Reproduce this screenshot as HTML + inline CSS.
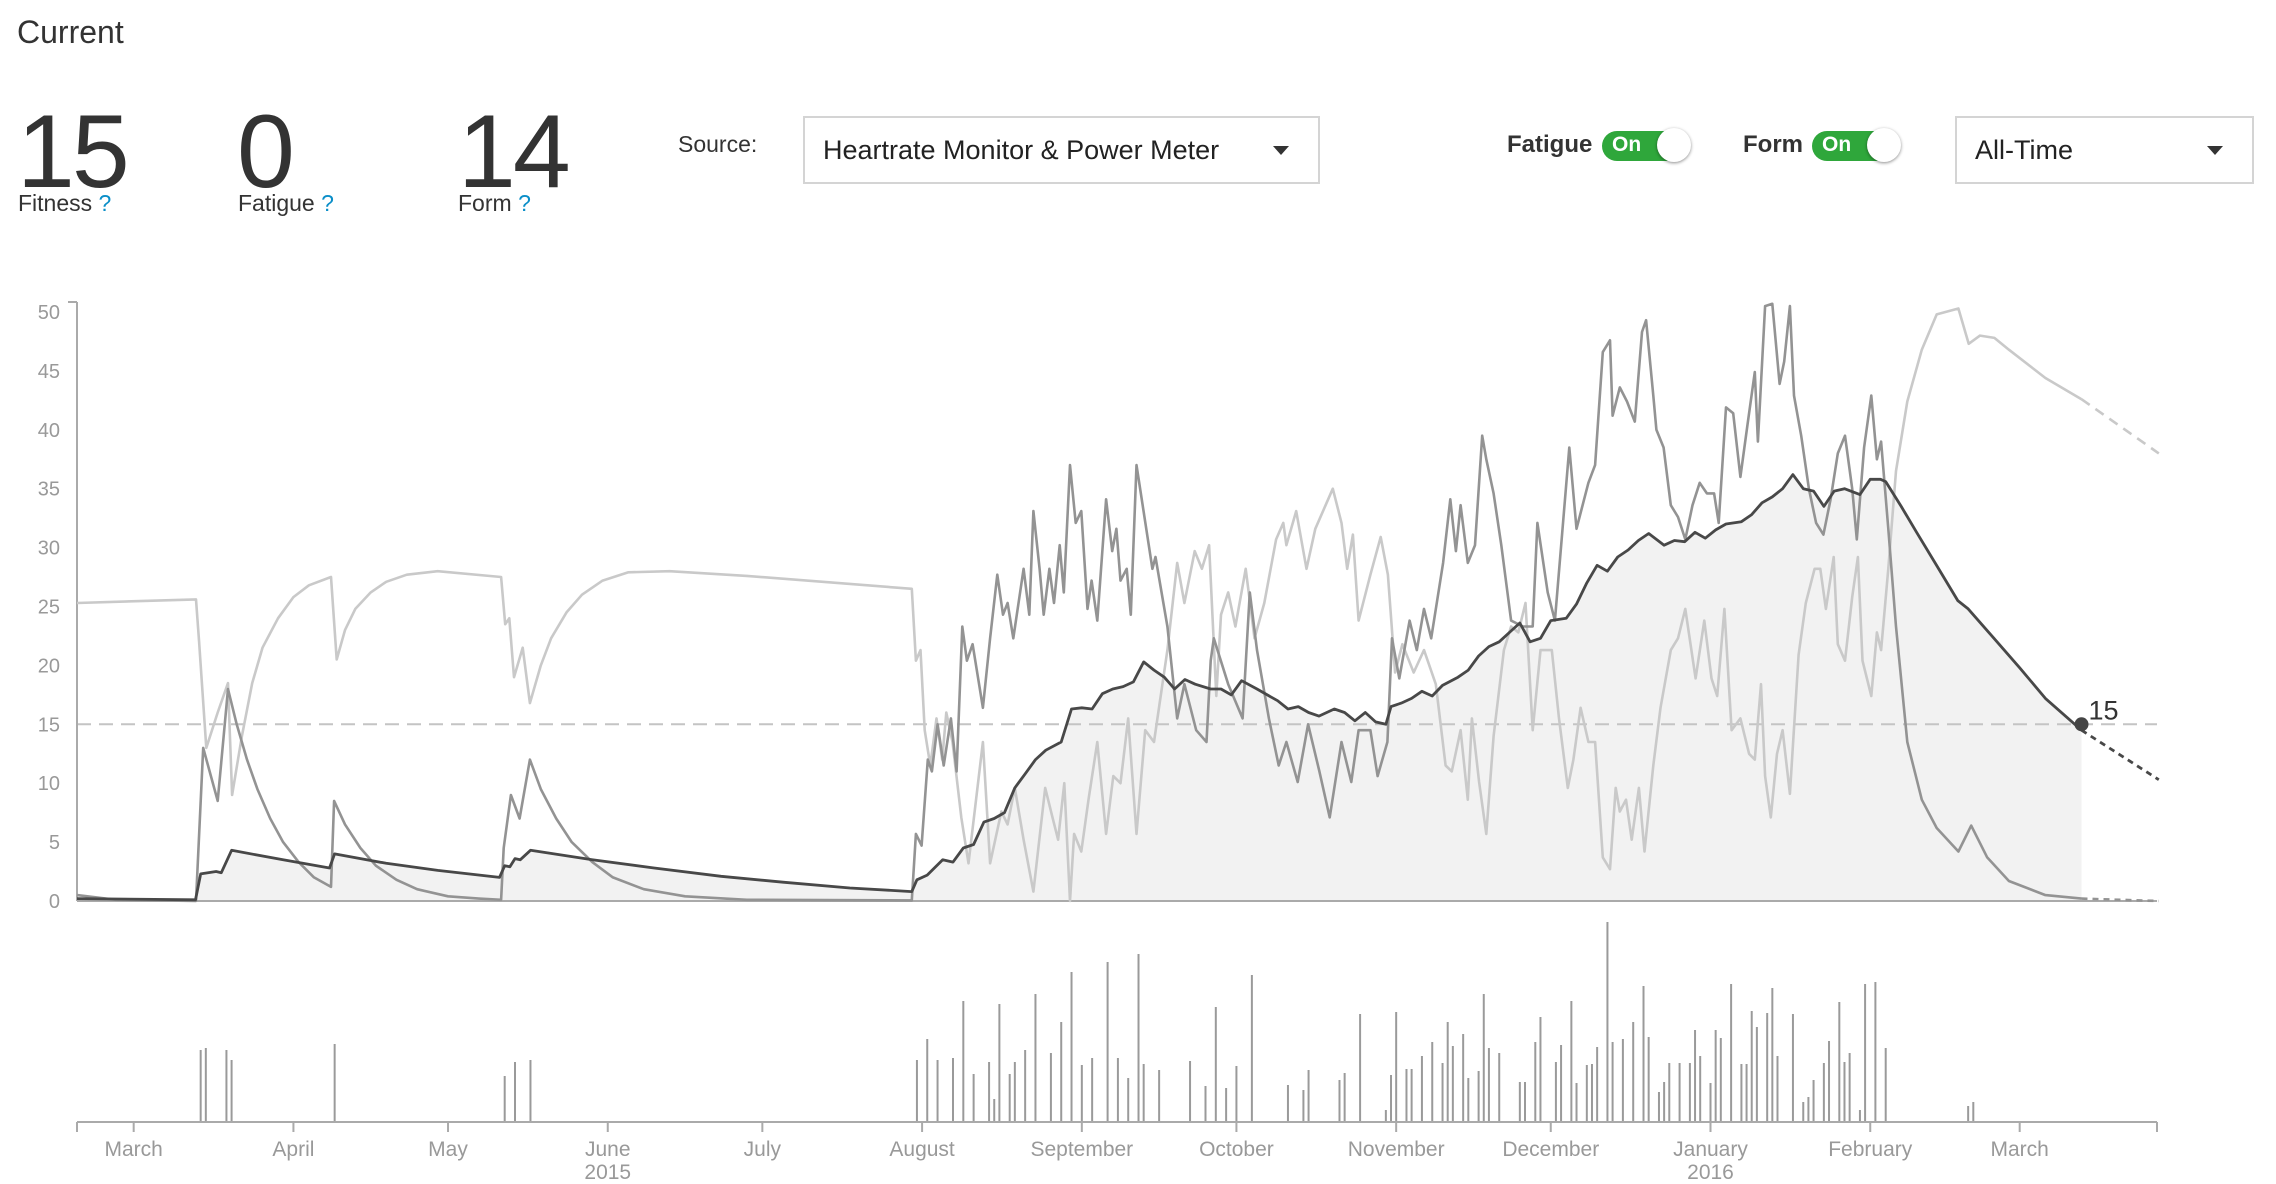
<!DOCTYPE html>
<html><head><meta charset="utf-8">
<style>
html,body{margin:0;padding:0;background:#fff;width:2276px;height:1184px;overflow:hidden;font-family:"Liberation Sans",sans-serif;color:#333}
.abs{position:absolute}
.big{font-size:104px;line-height:1;color:#333;letter-spacing:-3px}
.lbl{font-size:23px;color:#333}
.q{color:#0a8ec8}
.dd{border:2px solid #d4d4d4;background:#fff;box-sizing:border-box}
.ddtxt{font-size:27px;color:#222}
.caret{width:0;height:0;border-left:8px solid transparent;border-right:8px solid transparent;border-top:9px solid #333}
.tog{width:86px;height:30px;border-radius:15px;background:#2fa73b;box-sizing:border-box}
.tog span{position:absolute;left:10px;top:2px;color:#fff;font-weight:bold;font-size:21px}
.knob{position:absolute;right:-3px;top:-3px;width:34px;height:34px;border-radius:50%;background:#fff;box-shadow:0 1px 3px rgba(0,0,0,.45)}
</style></head>
<body>
<div class="abs" style="left:17px;top:14px;font-size:32px;color:#333">Current</div>

<div class="abs big" style="left:17px;top:100px">15</div>
<div class="abs lbl" style="left:18px;top:190px">Fitness <span class="q">?</span></div>
<div class="abs big" style="left:237px;top:100px">0</div>
<div class="abs lbl" style="left:238px;top:190px">Fatigue <span class="q">?</span></div>
<div class="abs big" style="left:458px;top:100px">14</div>
<div class="abs lbl" style="left:458px;top:190px">Form <span class="q">?</span></div>

<div class="abs lbl" style="left:678px;top:131px">Source:</div>
<div class="abs dd" style="left:803px;top:116px;width:517px;height:68px">
  <div class="abs ddtxt" style="left:18px;top:17px">Heartrate Monitor &amp; Power Meter</div>
  <div class="abs caret" style="left:468px;top:28px"></div>
</div>

<div class="abs" style="left:1507px;top:131px;font-size:24px;font-weight:bold;color:#333">Fatigue</div>
<div class="abs tog" style="left:1602px;top:131px"><span>On</span><div class="knob"></div></div>
<div class="abs" style="left:1743px;top:131px;font-size:24px;font-weight:bold;color:#333">Form</div>
<div class="abs tog" style="left:1812px;top:131px"><span>On</span><div class="knob"></div></div>

<div class="abs dd" style="left:1955px;top:116px;width:299px;height:68px">
  <div class="abs ddtxt" style="left:18px;top:17px">All-Time</div>
  <div class="abs caret" style="left:250px;top:28px"></div>
</div>

<svg id="chart" class="abs" style="left:0;top:0" width="2276" height="1184"></svg>

<script>
// ---- data (day = days since 2015-02-18) ----
const fitDays=[0,23,24,27,28,30,40,49,50,60,70,82,83,84,85,86,88,100,112,125,137,150,162,163,165,168,170,172,174,176,178,180,182,184,186,188,191,193,195,197,199,201,203,205,207,209,211,213,215,217,220,222,224,226,229,231,233,235,237,239,241,244,246,248,250,252,254,255,257,259,261,263,265,268,270,272,274,276,278,280,282,284,286,289,291,293,295,297,299,301,303,305,308,310,312,314,316,318,320,323,325,327,329,331,333,335,337,339,341,343,346,348,350,351,354,357,361,365,367,371,377,382,389];
const fitVals=[0.2,0.1,2.3,2.5,2.4,4.3,3.5,2.8,4.0,3.2,2.6,2.0,3.0,2.9,3.6,3.5,4.3,3.5,2.8,2.1,1.6,1.1,0.8,1.8,2.2,3.5,3.3,4.5,4.8,6.7,7.0,7.5,9.6,10.8,12.0,12.8,13.5,16.3,16.4,16.3,17.6,18.0,18.2,18.6,20.3,19.6,19.0,18.0,18.8,18.4,18.0,18.0,17.5,18.7,18.0,17.5,17.0,16.3,16.5,16.0,15.7,16.3,16.0,15.3,16.0,15.2,15.0,16.5,16.8,17.2,17.8,17.4,18.3,19.0,19.6,20.8,21.6,22.0,22.8,23.6,22.0,22.3,23.8,24.0,25.2,27.0,28.5,28.0,29.2,29.8,30.6,31.2,30.2,30.6,30.5,31.3,30.8,31.5,32.0,32.2,32.8,33.8,34.3,35.0,36.2,35.0,34.8,33.5,34.8,35.0,34.5,35.8,35.8,35.6,33.5,31.3,28.4,25.5,24.8,22.8,19.8,17.2,14.5];
const fitForecastDays=[389,404];
const fitForecastVals=[14.5,10.3];

const fatDays=[0,7.6,23.1,24.5,27.3,29.3,31,33,35,37.5,40,43,46,49.3,49.9,52,55,58,62,66,72,78,82.3,82.8,84.2,85.9,87.9,90,93,96,100,104,110,118,130,162,162.8,163.9,165.1,165.9,167,168.2,169.6,170.7,171.8,172.7,173.8,175.8,177.2,178.6,179.7,180.6,181.7,183.7,184.8,185.6,186.8,187.6,188.7,189.6,190.7,191.5,192.7,193.8,194.9,196.1,196.9,198,199.7,200.9,201.7,202.5,203.7,204.5,205.6,208.7,209.3,211.6,213.5,214.9,217.2,219.2,220,220.6,223.4,226.2,227.6,229,231.3,233.2,234.7,236.9,238.9,241.1,243.1,245.4,247.3,248.7,251,252.4,254.3,255.2,256.6,258.6,260,261.4,262.8,265.1,266.5,267.6,268.5,269.9,271.3,272.7,273.5,274.9,276.4,278.3,280.6,282.5,283.4,285.4,286.8,289.6,291,293.3,294.6,296.1,297.5,298,299.4,300.8,302.3,303.7,304.5,305.9,306.5,307.9,309.3,310.7,312.1,313.5,314.9,316.3,317.7,318.6,320,321.4,322.8,324.2,325.6,326.2,327.6,329,330.4,331.3,332.4,333.2,334.6,336.1,337.5,338.9,340.3,341.7,343.1,344.5,345.4,346.8,348.2,349.3,350.1,351.5,353,355.2,358,360.9,365.1,367.6,370.7,374.9,382,389];
const fatVals=[0.5,0.1,0,13,8.5,18,15,12,9.5,7,5,3.3,2,1.2,8.5,6.5,4.5,3,1.8,1,0.4,0.2,0.1,4.5,9,7,12,9.5,7,5,3.3,2,1,0.4,0.1,0.05,5.7,4.7,12,11,15,11.5,15.5,11,23.3,20.4,21.8,16.4,22.3,27.7,24.3,25.3,22.3,28.2,24.3,33.1,28.2,24.3,28.2,25.3,30.2,26.2,37,32.1,33.1,24.8,27.2,23.8,34.1,29.7,31.6,27.2,28.2,24.3,37,28.2,29.2,23.3,15.5,18.4,14.5,13.5,20.4,22.3,18.4,15.5,26.2,21.3,15.5,11.5,13.5,10.1,15,11,7.1,13.5,10.1,14.5,14.5,10.6,13.5,22.3,18.9,23.8,21.3,24.8,22.3,28.7,34.1,29.7,33.6,28.7,30.2,39.5,37.5,34.6,30.2,23.8,23.3,23.3,32.1,26.2,23.8,38.5,31.6,35.5,37,46.6,47.6,41.2,43.6,42.4,40.7,48.3,49.3,42.9,40,38.5,33.6,32.6,30.7,33.6,35.5,34.6,34.6,32.1,41.9,41.4,36,40.5,44.9,39,50.5,50.7,43.9,45.8,50.5,42.9,39.5,35,32.1,31.1,34.1,38,39.5,35,30.7,38.5,42.9,37.5,39,31.6,23.3,13.5,8.6,6.2,4.2,6.4,3.7,1.7,0.5,0.2];
const fatForecastDays=[389,404];
const fatForecastVals=[0.2,0];

const formDays=[0,23.1,23.7,25.1,27.3,29.3,30.1,32,34,36,39,42,45,49.3,50.4,52,54,57,60,64,70,82.3,83.1,83.9,84.8,86.5,87.9,90,92,95,98,102,107,115,130,162,162.8,163.7,164.5,165.6,166.8,167.9,168.7,169.9,171.6,173,175.8,177.2,179.4,180.6,182,183.7,185.6,187.9,189.3,190.4,191.6,192.7,193.5,194.9,196.3,198,199.7,201.1,202.5,204,205.6,207.3,209,211.6,213.5,214.9,216.9,218.3,219.7,221.1,222,223.4,224.8,226.8,228.5,230.4,232.7,234.1,234.7,236.6,238.6,240.3,242.3,243.7,245.4,246.5,247.6,248.7,251,253,254.4,255.8,257.2,259.4,261.4,263.7,265.6,266.8,268.5,269.9,270.7,272.1,273.5,274.9,276.9,278.3,279.7,281.1,282.5,284,286.2,287.6,289.3,290.4,291.8,293.3,294.6,296.1,297.5,298.6,299.4,300.6,301.7,303.1,304.2,305.9,307.3,309.3,310.7,312.1,314.1,315.8,317.2,318.3,319.7,321.1,322.8,324.5,325.6,326.8,327.6,328.7,329.9,331,332.4,334.1,335.5,337.2,338.3,339.4,340.9,341.7,343.1,344.5,345.6,346.5,348.2,349.3,350.1,351.5,353,355.2,358,360.9,365.1,367.1,369.3,372.1,374.9,382,389];
const formVals=[25.3,25.6,22,13,16,18.5,9,14,18.5,21.5,24,25.8,26.8,27.5,20.5,23,24.8,26.2,27.1,27.7,28,27.5,23.5,24,19,21.5,16.8,20,22.3,24.5,26,27.2,27.9,28,27.6,26.5,20.4,21.3,14.5,11.5,15.5,12,16,13.5,7.1,3.2,13.5,3.2,7.6,6.5,9.6,5.2,0.8,9.6,7.1,5.2,10,0,5.7,4.2,8.6,13.5,5.7,10.6,10,15.5,5.7,14.5,13.5,21.3,28.7,25.3,29.7,28.2,30.2,17.4,24.3,26.2,23.3,28.2,22.3,25.3,30.7,32.1,30.2,33.1,28.2,31.6,33.6,35,32.1,28.2,31.1,23.8,27.7,30.9,27.7,19.4,21.8,19.4,21.3,18.4,11.5,11,14.5,8.6,15.5,10.1,5.7,14,21.3,23.3,22.8,25.3,14.5,21.3,21.3,15.5,9.6,12,16.4,13.5,13.5,3.7,2.7,9.6,7.6,8.6,5.2,9.6,4.2,11.5,16.4,21.3,22.3,24.8,18.9,23.8,18.9,17.4,24.8,14.5,15.5,12.5,12,18.4,10.6,7.1,12.5,14.5,9.1,20.9,25.3,28.2,28.2,24.8,29.2,21.8,20.4,25.8,29.2,20.4,17.4,22.8,21.3,28.2,36.5,42.4,46.8,49.8,50.3,47.3,48,47.8,46.8,44.4,42.6];
const formForecastDays=[389,404];
const formForecastVals=[42.6,38];

const loadDays=[24,25,29,30,50,83,85,88,163,165,167,170,172,174,177,178,179,181,182,184,186,189,191,193,195,197,200,202,204,206,207,210,216,219,221,223,225,228,235,238,239,245,246,249,254,255,256,258,259,261,263,265,266,267,269,270,272,273,274,276,280,281,283,284,287,288,290,291,293,294,295,297,298,300,302,304,305,307,308,309,311,313,314,315,317,318,319,321,323,324,325,326,328,329,330,333,335,336,337,339,340,342,343,344,346,347,349,351,367,368];
const loadVals=[72,74,72,62,78,46,60,62,62,83,62,64,121,48,60,23,118,48,60,72,128,69,100,150,57,64,160,64,44,168,58,52,61,36,115,34,56,147,37,32,52,42,49,108,12,47,110,53,53,66,80,59,100,76,88,44,51,128,74,69,40,40,80,105,60,77,121,39,57,58,75,200,80,83,100,136,85,30,40,59,59,59,92,66,39,92,84,138,58,58,111,95,109,134,66,108,20,25,42,59,81,120,60,69,12,138,140,74,16,20];

const yTicks=[0,5,10,15,20,25,30,35,40,45,50];
const monthTicks=[["March",2015,2],["April",2015,3],["May",2015,4],["June",2015,5],["July",2015,6],["August",2015,7],["September",2015,8],["October",2015,9],["November",2015,10],["December",2015,11],["January",2016,0],["February",2016,1],["March",2016,2]];
const yearLabels=[["2015",2015,5],["2016",2016,0]];
const currentFitness=15;
const currentDay=389;

// ---- scales ----
const X0=77, PXDAY=5.153, Y0=901, PXV=11.78, BAR0=1122, PXLOAD=1.0;
const xS=d=>X0+d*PXDAY;
const yS=v=>Y0-v*PXV;
const bS=v=>BAR0-v*PXLOAD;
const startMs=Date.UTC(2015,1,18);
const dayOf=(y,m)=>(Date.UTC(y,m,1)-startMs)/864e5;

const svg=document.getElementById('chart');
const NS='http://www.w3.org/2000/svg';
function mk(tag,attrs,parent){const e=document.createElementNS(NS,tag);for(const k in attrs)e.setAttribute(k,attrs[k]);(parent||svg).appendChild(e);return e;}
function pathOf(ds,vs){return ds.map((d,i)=>(i?'L':'M')+xS(d).toFixed(1)+','+yS(vs[i]).toFixed(1)).join('');}

let area=mk('path',{d:pathOf(fitDays,fitVals)+'L'+xS(currentDay)+','+Y0+'L'+xS(0)+','+Y0+'Z',fill:'#f2f2f2',stroke:'none'});



let ref=mk('line',{x1:X0,x2:2157,y1:yS(currentFitness),y2:yS(currentFitness),stroke:'#c4c4c4','stroke-width':2,'stroke-dasharray':'14,8'});



let ax=mk('g',{});


mk('line',{x1:X0,x2:X0,y1:302,y2:Y0,stroke:'#aaa','stroke-width':2},ax);
mk('line',{x1:68,x2:X0,y1:302,y2:302,stroke:'#aaa','stroke-width':2},ax);
mk('line',{x1:X0,x2:2157,y1:Y0,y2:Y0,stroke:'#aaa','stroke-width':2},ax);
yTicks.forEach(t=>{
  const tx=mk('text',{x:60,y:yS(t)+7,'text-anchor':'end','font-size':20,fill:'#999','font-family':'Liberation Sans, sans-serif'},ax);
  tx.textContent=t;
  
  
});

function line(ds,vs,color,w,name,dash){
  const p=mk('path',{d:pathOf(ds,vs),fill:'none',stroke:color,'stroke-width':w,'stroke-linejoin':'round'});
  if(dash)p.setAttribute('stroke-dasharray',dash);
  
  
}
line(formDays,formVals,'#c9c9c9',2.6,'form-line');
line(formForecastDays,formForecastVals,'#c9c9c9',2.6,'form-forecast-line','10,7');
line(fatDays,fatVals,'#939393',2.6,'fatigue-line');
line(fatForecastDays,fatForecastVals,'#939393',2.6,'fatigue-forecast-line','6,5');
line(fitDays,fitVals,'#484848',2.8,'fitness-line');
line(fitForecastDays,fitForecastVals,'#484848',2.8,'fitness-forecast-line','6,5');

let dot=mk('circle',{cx:xS(currentDay),cy:yS(currentFitness),r:7,fill:'#444'});


let dl=mk('text',{x:xS(currentDay)+7,y:yS(currentFitness)-5,'font-size':27,fill:'#333','font-family':'Liberation Sans, sans-serif'});
dl.textContent=currentFitness;



loadDays.forEach((d,i)=>{
  const b=mk('line',{x1:xS(d),x2:xS(d),y1:BAR0,y2:bS(loadVals[i]),stroke:'#9a9a9a','stroke-width':2});
  
  
});

let xa=mk('g',{});


mk('line',{x1:X0,x2:2157,y1:BAR0,y2:BAR0,stroke:'#aaa','stroke-width':2},xa);
mk('line',{x1:X0,x2:X0,y1:BAR0,y2:BAR0+10,stroke:'#aaa','stroke-width':2},xa);
mk('line',{x1:2157,x2:2157,y1:BAR0,y2:BAR0+10,stroke:'#aaa','stroke-width':2},xa);
monthTicks.forEach(m=>{
  const x=xS(dayOf(m[1],m[2]));
  mk('line',{x1:x,x2:x,y1:BAR0,y2:BAR0+10,stroke:'#aaa','stroke-width':2},xa);
  const t=mk('text',{x:x,y:1156,'text-anchor':'middle','font-size':21,fill:'#999','font-family':'Liberation Sans, sans-serif'},xa);
  t.textContent=m[0];
  
  
});
yearLabels.forEach(m=>{
  const t=mk('text',{x:xS(dayOf(m[1],m[2])),y:1179,'text-anchor':'middle','font-size':21,fill:'#999','font-family':'Liberation Sans, sans-serif'},xa);
  t.textContent=m[0];
  
  
});
</script>
</body></html>
